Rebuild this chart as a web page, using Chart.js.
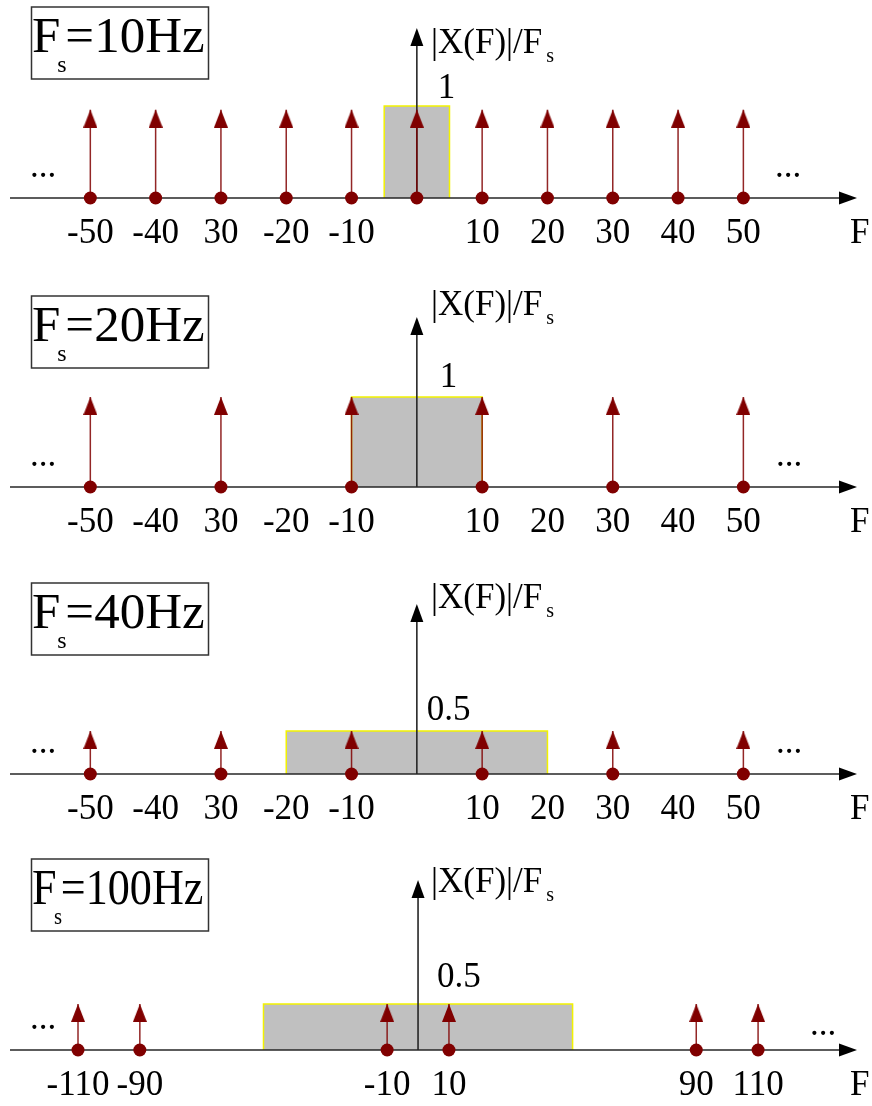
<!DOCTYPE html>
<html>
<head>
<meta charset="utf-8">
<script src="https://cdn.jsdelivr.net/npm/chart.js@4.4.1/dist/chart.umd.min.js"></script>
<style>
  html, body { margin: 0; padding: 0; background: #fff; }
  #wrap { position: relative; width: 872px; height: 1106px; overflow: hidden; }
  #wrap canvas { position: absolute; left: 0; }
</style>
</head>
<body>
<div id="wrap">
  <canvas id="panel0" width="872" height="289" style="top:0px"></canvas>
  <canvas id="panel1" width="872" height="287" style="top:289px"></canvas>
  <canvas id="panel2" width="872" height="276" style="top:576px"></canvas>
  <canvas id="panel3" width="872" height="254" style="top:852px"></canvas>
</div>
<script>
// sampling rate of each panel (Hz)
var sampleRates = [10, 20, 40, 100];

// impulse positions and heights of the sampled spectrum
var pulseFreqs = [
    [-50, -40, -30, -20, -10, 0, 10, 20, 30, 40, 50],
    [-50, -30, -10, 10, 30, 50],
    [-50, -30, -10, 10, 30, 50],
    [-110, -90, -10, 10, 90, 110]
];
var pulseHeights = [0.96, 1, 0.5, 0.5];

// rectangular band |X(F)|/Fs : half width (Hz) and height
var bandHalfWidths = [5, 10, 20, 50];
var bandHeights = [1, 1, 0.5, 0.5];
var peakLabels = ['1', '1', '0.5', '0.5'];

// frequency axis ticks
var tickValues = [
    [-50, -40, -30, -20, -10, 10, 20, 30, 40, 50],
    [-50, -40, -30, -20, -10, 10, 20, 30, 40, 50],
    [-50, -40, -30, -20, -10, 10, 20, 30, 40, 50],
    [-110, -90, -10, 10, 90, 110]
];
var tickLabels = [
    ['-50', '-40', '30', '-20', '-10', '10', '20', '30', '40', '50'],
    ['-50', '-40', '30', '-20', '-10', '10', '20', '30', '40', '50'],
    ['-50', '-40', '30', '-20', '-10', '10', '20', '30', '40', '50'],
    ['-110', '-90', '-10', '10', '90', '110']
];

// per panel drawing setup (axis ranges, text offsets)
var BASE = 198;   // pixel row of F axis inside each canvas
var panelSetup = [
    { xMin: -62.3, xMax: 67.4, unit: 92, labelRise: 145, peakDx: 21, peakGap: 8,  rightDots: 775, rightDrop: 21, squeeze: 1 },
    { xMin: -62.3, xMax: 67.4, unit: 90, labelRise: 172, peakDx: 23, peakGap: 10, rightDots: 776, rightDrop: 21, squeeze: 1 },
    { xMin: -62.3, xMax: 67.4, unit: 86, labelRise: 166, peakDx: 10, peakGap: 11, rightDots: 776, rightDrop: 21, squeeze: 1 },
    { xMin: -132,  xMax: 142,  unit: 92, labelRise: 158, peakDx: 19, peakGap: 17, rightDots: 810, rightDrop: 15, squeeze: 0.865 }
];

var SERIF = '"Liberation Serif", "Times New Roman", serif';
var DARKRED = '#800000';

// arrow head image, tip sits at the centre of the canvas
function makeArrowHead(w, h, color) {
    var c = document.createElement('canvas');
    c.width = w;
    c.height = h * 2;
    var g = c.getContext('2d');
    g.fillStyle = color;
    g.beginPath();
    g.moveTo(w / 2, h);
    g.lineTo(w, h * 2);
    g.lineTo(0, h * 2);
    g.closePath();
    g.fill();
    return c;
}
var redHead = makeArrowHead(14, 18, DARKRED);

var sketchPlugin = {
    id: 'sketch',
    // axes go over the grey band but under the impulses
    afterDatasetDraw: function(chart, args) {
        if (args.index !== 0) return;
        var ctx = chart.ctx, area = chart.chartArea;
        var y0 = chart.scales.y.getPixelForValue(0);
        var x0 = chart.scales.x.getPixelForValue(0);
        var top = y0 - 170;
        ctx.save();
        ctx.strokeStyle = '#262626';
        ctx.fillStyle = '#000';
        ctx.lineWidth = 1.6;
        ctx.beginPath();
        ctx.moveTo(area.left, y0);
        ctx.lineTo(area.right - 14, y0);
        ctx.stroke();
        ctx.beginPath();
        ctx.moveTo(area.right, y0);
        ctx.lineTo(area.right - 18, y0 - 6.5);
        ctx.lineTo(area.right - 18, y0 + 6.5);
        ctx.closePath();
        ctx.fill();
        ctx.beginPath();
        ctx.moveTo(x0, y0);
        ctx.lineTo(x0, top + 14);
        ctx.stroke();
        ctx.beginPath();
        ctx.moveTo(x0, top);
        ctx.lineTo(x0 - 6.5, top + 18);
        ctx.lineTo(x0 + 6.5, top + 18);
        ctx.closePath();
        ctx.fill();
        ctx.restore();
    },
    afterDraw: function(chart, args, opts) {
        var ctx = chart.ctx;
        var ys = chart.scales.y, xs = chart.scales.x;
        var y0 = ys.getPixelForValue(0);
        var x0 = xs.getPixelForValue(0);
        var s = opts.setup;
        ctx.save();
        ctx.fillStyle = '#000';
        ctx.textBaseline = 'alphabetic';
        ctx.textAlign = 'left';

        // Fs box
        ctx.strokeStyle = '#333';
        ctx.lineWidth = 1.5;
        ctx.strokeRect(31.5, y0 - 191, 177, 72);
        ctx.save();
        ctx.translate(32, y0 - 146);
        ctx.scale(s.squeeze, 1);
        ctx.font = '51px ' + SERIF;
        ctx.fillText('F', 0, 0);
        var fw = ctx.measureText('F').width;
        ctx.fillText('=' + opts.rate + 'Hz', fw + 5, 0);
        ctx.font = '24px ' + SERIF;
        ctx.fillText('s', fw - 3, 20);
        ctx.restore();

        // axis names
        ctx.font = '35px ' + SERIF;
        ctx.fillText('|X(F)|/F', 431, y0 - s.labelRise);
        var lw = ctx.measureText('|X(F)|/F').width;
        ctx.fillText('F', 850, y0 + 45);
        ctx.fillText('...', 30, y0 - 21);
        ctx.fillText('...', s.rightDots, y0 - s.rightDrop);
        ctx.fillText(opts.peak, x0 + s.peakDx, ys.getPixelForValue(opts.band) - s.peakGap);
        ctx.font = '20px ' + SERIF;
        ctx.fillText('s', 431 + lw + 4, y0 - s.labelRise + 9);
        ctx.restore();
    }
};

function buildPanel(i) {
    var s = panelSetup[i];
    var canvas = document.getElementById('panel' + i);
    var h = canvas.height;
    var w = bandHalfWidths[i], bh = bandHeights[i], ph = pulseHeights[i];

    var band = [{x: -w, y: 0}, {x: -w, y: bh}, {x: w, y: bh}, {x: w, y: 0}];
    var stems = [], heads = [], bases = [];
    pulseFreqs[i].forEach(function(f) {
        stems.push({x: f, y: 0}, {x: f, y: ph}, {x: f, y: null});
        heads.push({x: f, y: ph});
        bases.push({x: f, y: 0});
    });

    var chart = new Chart(canvas, {
        type: 'scatter',
        data: {
            datasets: [
                { data: band, order: 4, showLine: true, fill: 'origin', backgroundColor: '#c0c0c0',
                  borderColor: '#f2f200', borderWidth: 1.5, pointRadius: 0 },
                { data: stems, order: 3, showLine: true, spanGaps: false, borderColor: 'rgba(128,0,0,0.85)',
                  borderWidth: 1.5, pointRadius: 0 },
                { data: heads, order: 2, pointStyle: redHead, pointRadius: 6 },
                { data: bases, order: 1, pointStyle: 'circle', pointRadius: 6.5,
                  backgroundColor: DARKRED, borderWidth: 0 }
            ]
        },
        options: {
            responsive: false,
            animation: false,
            events: [],
            layout: { padding: { left: 10, right: 15, top: 0, bottom: 0 } },
            scales: {
                x: {
                    type: 'linear',
                    position: { y: 0 },
                    min: s.xMin,
                    max: s.xMax,
                    grid: { display: false },
                    border: { display: false },
                    afterBuildTicks: function(scale) {
                        scale.ticks = tickValues[i].map(function(v) { return {value: v}; });
                    },
                    ticks: {
                        autoSkip: false,
                        maxRotation: 0,
                        padding: 7,
                        color: '#000',
                        font: { family: SERIF, size: 35 },
                        callback: function(value, index) { return tickLabels[i][index]; }
                    }
                },
                y: {
                    type: 'linear',
                    display: false,
                    min: -(h - BASE) / s.unit,
                    max: BASE / s.unit
                }
            },
            plugins: {
                legend: { display: false },
                tooltip: { enabled: false },
                sketch: { setup: s, rate: sampleRates[i], peak: peakLabels[i], band: bh }
            }
        },
        plugins: [sketchPlugin]
    });

    // the tick labels eat a few px of the chart area; keep F axis on BASE row
    var area = chart.chartArea;
    chart.options.scales.y.max = (BASE - area.top) / s.unit;
    chart.options.scales.y.min = -(area.bottom - BASE) / s.unit;
    chart.update();
    return chart;
}

for (var i = 0; i < 4; i++) {
    buildPanel(i);
}
</script>
</body>
</html>
